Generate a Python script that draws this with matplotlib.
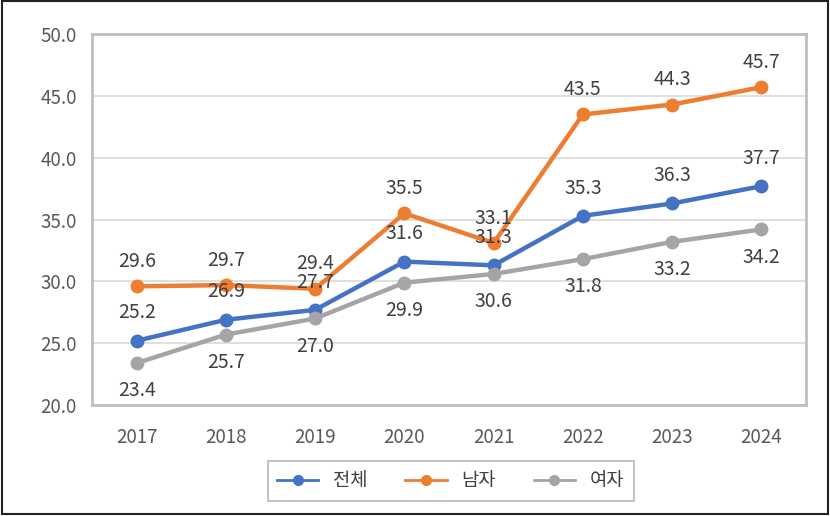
import matplotlib
matplotlib.use("Agg")
import matplotlib.pyplot as plt
from matplotlib.patches import Rectangle

plt.rcParams['font.family'] = ['Noto Sans CJK KR', 'DejaVu Sans']

years = ['2017', '2018', '2019', '2020', '2021', '2022', '2023', '2024']
total = [25.2, 26.9, 27.7, 31.6, 31.3, 35.3, 36.3, 37.7]
male = [29.6, 29.7, 29.4, 35.5, 33.1, 43.5, 44.3, 45.7]
female = [23.4, 25.7, 27.0, 29.9, 30.6, 31.8, 33.2, 34.2]
series_names = ['전체', '남자', '여자']
yticks = [20, 25, 30, 35, 40, 45, 50]

colors = ['#4472C4', '#ED7D31', '#A5A5A5']
label_offsets = [20, 18, -20]  # points; gray labels sit below the markers

fig = plt.figure(figsize=(8.3, 5.16), dpi=100)
ax = fig.add_axes([0.111, 0.215, 0.860, 0.719])

x = list(range(len(years)))
for vals, name, col, off in zip([total, male, female], series_names, colors, label_offsets):
    ax.plot(x, vals, color=col, lw=3.2, marker='o', ms=9, label=name, zorder=3)
    for xi, v in zip(x, vals):
        ax.annotate(f'{v:.1f}', (xi, v), xytext=(0, off), textcoords='offset points',
                    ha='center', va='center', fontsize=14, color='#404040', zorder=4)

ax.set_xlim(-0.5, len(years) - 0.5)
ax.set_ylim(20, 50)
ax.set_xticks(x)
ax.set_xticklabels(years)
ax.set_yticks(yticks)
ax.set_yticklabels([f'{t:.1f}' for t in yticks])
ax.tick_params(length=0, labelsize=13.5, colors='#595959')
ax.tick_params(axis='x', pad=16)
ax.tick_params(axis='y', pad=11)
ax.grid(axis='y', color='#D9D9D9', lw=1.2, zorder=0)
for s in ax.spines.values():
    s.set_color('#BFBFBF')
    s.set_linewidth(2)

leg = fig.legend(loc='center', bbox_to_anchor=(0.543, 0.068), ncol=3, fontsize=13.5,
                 frameon=True, fancybox=False, edgecolor='#A6A6A6',
                 handlelength=2.2, columnspacing=2.0, borderpad=0.5, borderaxespad=0)
leg.get_frame().set_linewidth(1.2)
for h in leg.legend_handles:
    h.set_markersize(7)
    h.set_linewidth(2)
for t in leg.get_texts():
    t.set_color('#404040')

# outer frame around the whole image
fig.patches.append(Rectangle((0.002, 0.004), 0.996, 0.994, transform=fig.transFigure,
                             fill=False, edgecolor='#222222', lw=1.5))

fig.savefig('out.png', dpi=100)
